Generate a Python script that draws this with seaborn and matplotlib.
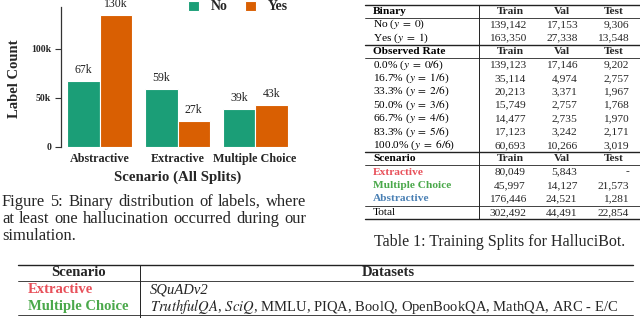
import math
import pandas as pd
import matplotlib.pyplot as plt
import seaborn as sns

# Figure 5 data: label counts over all splits
scenarios = ['Abstractive', 'Extractive', 'Multiple Choice']
no_counts = [67400, 59200, 38800]
yes_counts = [134800, 26600, 42900]
hue_names = ['No', 'Yes']
bar_colors = ['#1b9e77', '#d95f02']

fig5_caption = ['Figure 5: Binary distribution of labels, where',
                'at least one hallucination occurred during our',
                'simulation.']

# Table 1 data
split_cols = ['Train', 'Val', 'Test']
binary_rows = [r'No ($y\;=\;0$)', r'Yes ($y\;=\;1$)']
binary_vals = [['139,142', '17,153', '9,306'],
               ['163,350', '27,338', '13,548']]
rate_rows = [r'0.0% ($y\;=\;0/6$)', r'16.7% ($y\;=\;1/6$)', r'33.3% ($y\;=\;2/6$)',
             r'50.0% ($y\;=\;3/6$)', r'66.7% ($y\;=\;4/6$)', r'83.3% ($y\;=\;5/6$)',
             r'100.0% ($y\;=\;6/6$)']
rate_vals = [['139,123', '17,146', '9,202'],
             ['35,114', '4,974', '2,757'],
             ['20,213', '3,371', '1,967'],
             ['15,749', '2,757', '1,768'],
             ['14,477', '2,735', '1,970'],
             ['17,123', '3,242', '2,171'],
             ['60,693', '10,266', '3,019']]
scen_rows = ['Extractive', 'Multiple Choice', 'Abstractive']
scen_colors = ['#e8505a', '#4aa84a', '#4a80b4']
scen_vals = [['80,049', '5,843', '-'],
             ['45,997', '14,127', '21,573'],
             ['176,446', '24,521', '1,281']]
total_vals = ['302,492', '44,491', '22,854']
table_caption = 'Table 1: Training Splits for HalluciBot.'

# bottom table (datasets per scenario)
ds_scenarios = ['Extractive', 'Multiple Choice']
ds_lists = ['SQuADv2',
            r'$\mathit{TruthfulQA}$, $\mathit{SciQ}$, MMLU, PIQA, BoolQ, OpenBookQA, MathQA, ARC - E/C']
ds_styles = ['italic', 'normal']

sns.set_style('ticks')
plt.rcParams['font.family'] = 'Liberation Serif'
plt.rcParams['mathtext.fontset'] = 'stix'

df = pd.DataFrame({
    'Scenario': scenarios * 2,
    'Label': [hue_names[0]] * 3 + [hue_names[1]] * 3,
    'Count': no_counts + yes_counts,
})

fig = plt.figure(figsize=(6.4, 3.18), dpi=100)

# page layer in pixel coordinates for captions and tables
page = fig.add_axes([0, 0, 1, 1], zorder=0)
page.set_xlim(0, 640)
page.set_ylim(318, 0)
page.axis('off')

ax = fig.add_axes([61 / 640, 1 - 147 / 318, 233 / 640, 140.3 / 318], zorder=1)
ax.patch.set_alpha(0)
sns.barplot(data=df, x='Scenario', y='Count', hue='Label', palette=bar_colors,
            saturation=1, width=0.84, edgecolor='white', linewidth=0.8, ax=ax)


def short(v):
    digits = int(math.floor(math.log10(v))) - 1
    return f"{round(v, -digits) / 1000:.0f}k"


for c in ax.containers:
    ax.bar_label(c, labels=[short(v) for v in c.datavalues], padding=3.5,
                 fontsize=8.5, color='#222222')

ax.set_xlim(-0.5, 2.5)
ax.set_ylim(0, 143000)
ax.set_yticks([0, 50000, 100000])
ax.set_yticklabels(['0', '50k', '100k'])
ax.tick_params(axis='y', length=4, width=0.8, pad=3, labelsize=7, color='#333333')
ax.tick_params(axis='x', length=0, pad=4, labelsize=8.7)
for lbl in ax.get_xticklabels() + ax.get_yticklabels():
    lbl.set_fontweight('bold')
sns.despine(ax=ax, bottom=True)
ax.spines['left'].set_color('#333333')
ax.spines['left'].set_linewidth(0.9)
ax.set_xlabel('Scenario (All Splits)', fontsize=10.7, fontweight='bold')
ax.set_ylabel('Label Count', fontsize=10.5, fontweight='bold')
ax.xaxis.set_label_coords(0.5, -0.17)
ax.yaxis.set_label_coords(-0.17, 0.49)

handles, labels = ax.get_legend_handles_labels()
ax.get_legend().remove()
fig.legend(handles, labels, loc='center', bbox_to_anchor=(238 / 640, 1 - 7 / 318),
           ncol=2, frameon=False, prop={'weight': 'bold', 'size': 10},
           handlelength=0.75, handleheight=0.7, handletextpad=0.85,
           columnspacing=1.3, borderpad=0)

# Figure 5 caption, justified like the paper (last line ragged)
renderer = fig.canvas.get_renderer()
cap_left, cap_right = 2, 306
for i, line in enumerate(fig5_caption):
    yy = 202 + i * 17
    words = line.split()
    texts = [page.text(0, yy, w, fontsize=11.9, ha='left', va='center') for w in words]
    widths = [t.get_window_extent(renderer).width for t in texts]
    if i < len(fig5_caption) - 1 and len(words) > 1:
        gap = (cap_right - cap_left - sum(widths)) / (len(words) - 1)
    else:
        gap = 4.0
    x = cap_left
    for t, w in zip(texts, widths):
        t.set_x(x)
        x += w + gap

# Table 1
fs = 8.2
col_centers = [510.5, 561.7, 614]
col_rights = [526, 577.5, 629]
step = 13.4
y = 11.3


def table_row(y, label, vals, header=False, color='black'):
    w = 'bold' if header or color != 'black' else 'normal'
    page.text(373, y, label, fontsize=fs, fontweight=w, color=color,
              ha='left', va='center')
    for i, v in enumerate(vals):
        if header:
            page.text(col_centers[i], y, v, fontsize=fs, fontweight='bold',
                      ha='center', va='center')
        else:
            page.text(col_rights[i], y, v, fontsize=fs, ha='right', va='center')


rules = [(4.6, 1.0)]
table_row(y, 'Binary', split_cols, header=True)
rules.append((y + step / 2, 0.6))
for lab, vals in zip(binary_rows, binary_vals):
    y += step
    table_row(y, lab, vals)
rules.append((y + step / 2, 1.0))
y += step
table_row(y, 'Observed Rate', split_cols, header=True)
rules.append((y + step / 2, 0.6))
for lab, vals in zip(rate_rows, rate_vals):
    y += step
    table_row(y, lab, vals)
rules.append((y + step / 2, 1.0))
y += step
table_row(y, 'Scenario', split_cols, header=True)
rules.append((y + step / 2, 0.6))
for lab, vals, col in zip(scen_rows, scen_vals, scen_colors):
    y += step
    table_row(y, lab, vals, color=col)
rules.append((y + step / 2, 0.6))
y += step
table_row(y, 'Total', total_vals)
rules.append((y + step / 2 - 0.5, 1.0))
for ry, lw in rules:
    page.plot([365, 640], [ry, ry], color='#222222', lw=lw)
page.plot([479, 479], [rules[0][0], rules[-1][0]], color='#222222', lw=0.7)
page.text(500, 242, table_caption, fontsize=11.5, ha='center', va='center')

# bottom table
bfs = 10.5
page.plot([18, 633], [264.7, 264.7], color='#222222', lw=1.0)
page.plot([18, 633], [281.3, 281.3], color='#222222', lw=0.6)
page.plot([18, 633], [315.3, 315.3], color='#222222', lw=0.6)
page.plot([140, 140], [264.7, 318], color='#222222', lw=0.7)
page.text(79, 273, 'Scenario', fontsize=bfs, fontweight='bold', ha='center', va='center')
page.text(388, 273, 'Datasets', fontsize=bfs, fontweight='bold', ha='center', va='center')
for i, (sc, ds, st) in enumerate(zip(ds_scenarios, ds_lists, ds_styles)):
    yy = 289.7 + i * 16.6
    page.text(28, yy, sc, fontsize=bfs, fontweight='bold', color=scen_colors[i],
              ha='left', va='center')
    page.text(150, yy, ds, fontsize=bfs, fontstyle=st, ha='left', va='center')

fig.savefig('out.png', dpi=100)
